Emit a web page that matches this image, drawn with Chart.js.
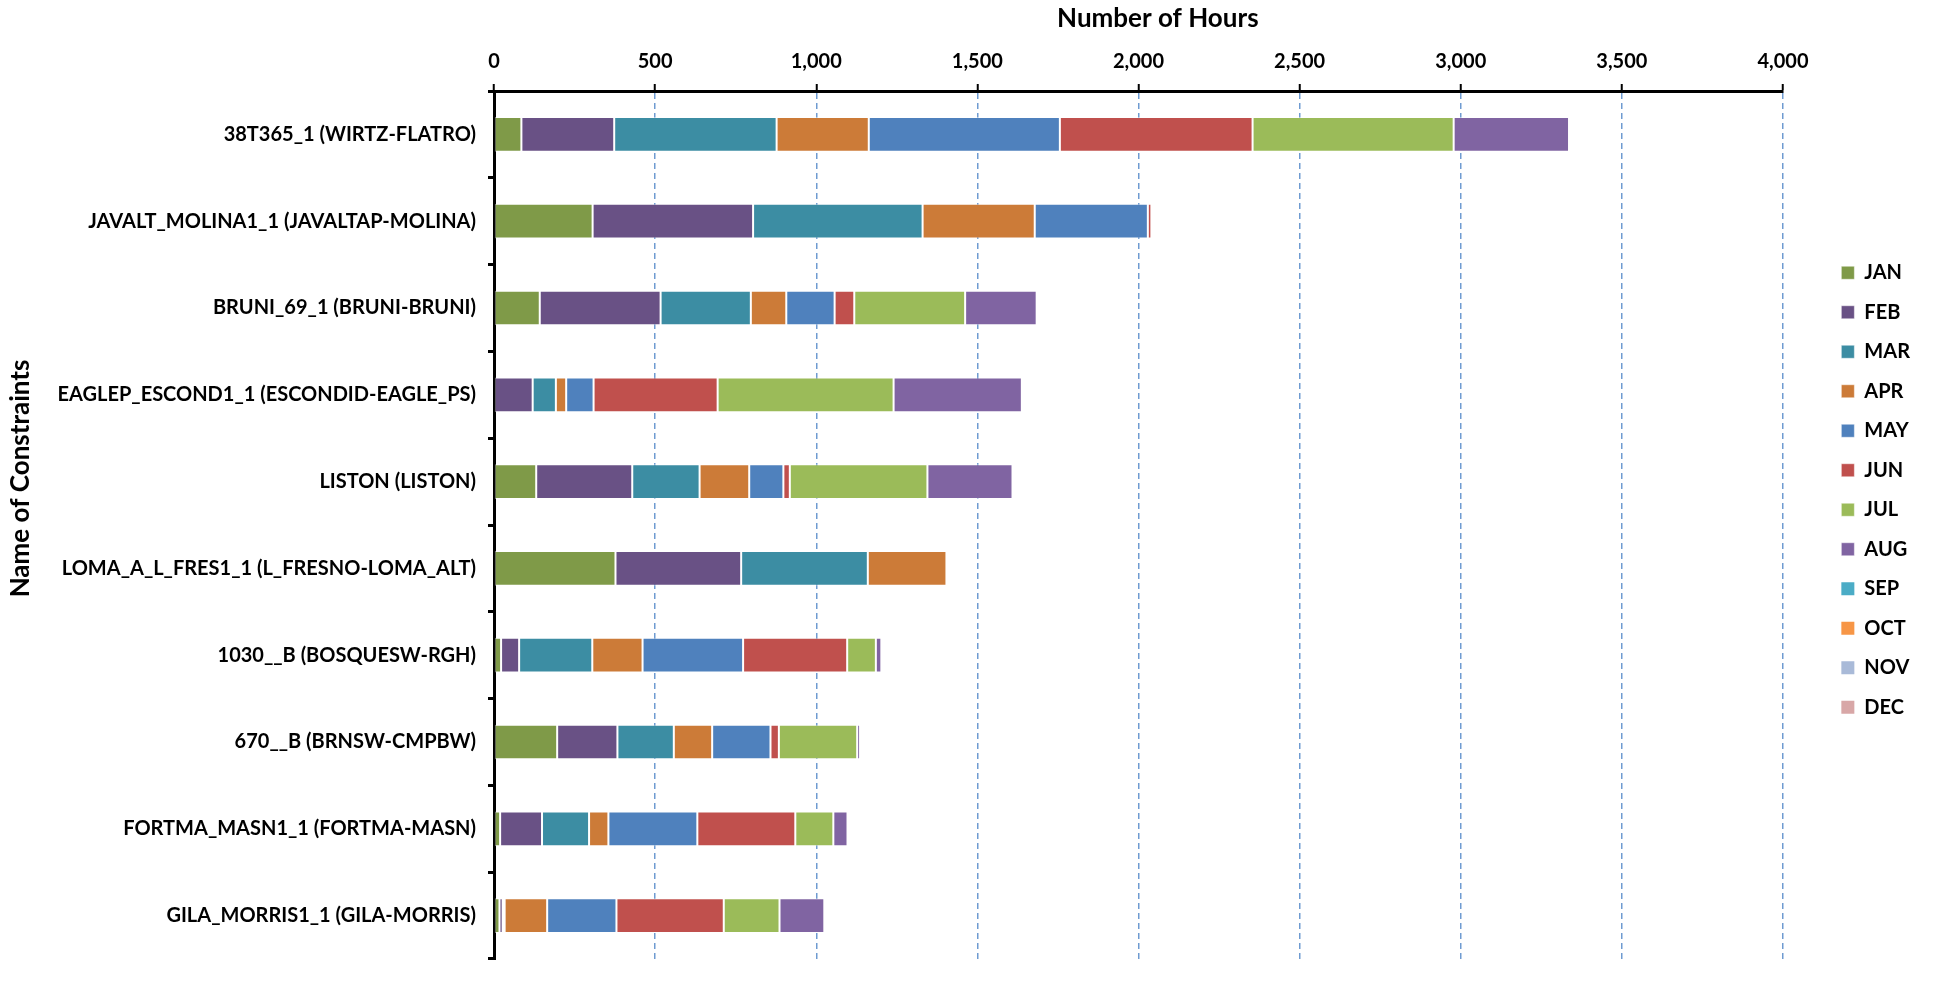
<!DOCTYPE html>
<html>
<head>
<meta charset="utf-8">
<script src="https://cdn.jsdelivr.net/npm/chart.js@4.4.1/dist/chart.umd.min.js"></script>
<style>
  html, body { margin: 0; padding: 0; background: #fff; }
  #wrap { width: 1936px; height: 983px; position: relative; }
</style>
</head>
<body>
<div id="wrap"><canvas id="chart"></canvas></div>
<script>
// constraint names, top to bottom
const constraints = [
  '38T365_1 (WIRTZ-FLATRO)',
  'JAVALT_MOLINA1_1 (JAVALTAP-MOLINA)',
  'BRUNI_69_1 (BRUNI-BRUNI)',
  'EAGLEP_ESCOND1_1 (ESCONDID-EAGLE_PS)',
  'LISTON (LISTON)',
  'LOMA_A_L_FRES1_1 (L_FRESNO-LOMA_ALT)',
  '1030__B (BOSQUESW-RGH)',
  '670__B (BRNSW-CMPBW)',
  'FORTMA_MASN1_1 (FORTMA-MASN)',
  'GILA_MORRIS1_1 (GILA-MORRIS)',
];

// hours binding per month
const jan = [85, 306, 142, 0, 131, 377, 22, 196, 19, 17];
const feb = [288, 498, 375, 120, 298, 390, 56, 187, 130, 10];
const mar = [504, 526, 280, 72, 209, 393, 227, 175, 146, 6];
const apr = [286, 348, 110, 32, 154, 244, 156, 119, 60, 132];
const may = [593, 351, 150, 85, 106, 0, 312, 181, 276, 215];
const jun = [598, 11, 61, 385, 20, 0, 323, 26, 304, 333];
const jul = [624, 0, 344, 546, 427, 4, 89, 243, 118, 173];
const aug = [358, 0, 222, 398, 264, 0, 17, 9, 44, 139];
const sep = [0, 0, 0, 0, 0, 0, 0, 0, 0, 0];
const oct = [0, 0, 0, 0, 0, 0, 0, 0, 0, 0];
const nov = [0, 0, 0, 0, 0, 0, 0, 0, 0, 0];
const dec = [0, 0, 0, 0, 0, 0, 0, 0, 0, 0];

const months = ['JAN', 'FEB', 'MAR', 'APR', 'MAY', 'JUN', 'JUL', 'AUG', 'SEP', 'OCT', 'NOV', 'DEC'];
const monthValues = [jan, feb, mar, apr, may, jun, jul, aug, sep, oct, nov, dec];
const monthColors = [
  '#7f9a48', '#695185', '#3c8da3', '#cc7b38', '#4f81bd', '#c0504d',
  '#9bbb59', '#8064a2', '#4bacc6', '#f79646', '#a9bad8', '#d8a7a7',
];

const X_TITLE = 'Number of Hours';
const Y_TITLE = 'Name of Constraints';
const FONT = 'Lato';

Chart.defaults.color = '#000';
Chart.defaults.font.family = FONT;
Chart.defaults.font.weight = 'bold';

// axis titles drawn by hand so they sit where the original has them
const axisTitles = {
  id: 'axisTitles',
  afterDraw(chart) {
    const {ctx, chartArea} = chart;
    ctx.save();
    ctx.font = 'bold 26px ' + FONT;
    ctx.fillStyle = '#000';
    ctx.textAlign = 'center';
    ctx.textBaseline = 'middle';
    ctx.fillText(X_TITLE, chartArea.left + chartArea.width * 0.515, 19);
    ctx.translate(21, chart.height / 2 - 13);
    ctx.rotate(-Math.PI / 2);
    ctx.fillText(Y_TITLE, 0, 0);
    ctx.restore();
  },
};

const datasets = months.map((m, i) => ({
  label: m,
  data: monthValues[i],
  backgroundColor: monthColors[i],
  borderColor: 'rgba(255,255,255,0.45)',
  borderWidth: (c) => (c.raw ? 1 : 0),
  borderSkipped: false,
  categoryPercentage: 0.4,
  barPercentage: 1,
}));

new Chart(document.getElementById('chart'), {
  type: 'bar',
  data: {labels: constraints, datasets},
  plugins: [axisTitles],
  options: {
    indexAxis: 'y',
    responsive: true,
    maintainAspectRatio: false,
    animation: false,
    layout: {padding: {top: 0, left: 0, right: 16, bottom: 3}},
    plugins: {
      tooltip: {enabled: false},
      legend: {
        position: 'right',
        align: 'center',
        labels: {
          boxWidth: 13,
          boxHeight: 13,
          padding: 19.5,
          font: {size: 20, weight: 'bold'},
          color: '#000',
        },
      },
    },
    scales: {
      x: {
        position: 'top',
        stacked: true,
        min: 0,
        max: 4000,
        afterFit: (s) => { s.height = 91; },
        ticks: {stepSize: 500, padding: 10, font: {size: 20, weight: 'bold'}},
        grid: {
          color: '#6f9bd1',
          lineWidth: 1.5,
          tickColor: '#000',
          tickWidth: 2,
          tickLength: 7,
        },
        border: {display: true, color: '#000', width: 3, dash: [6, 4]},
      },
      y: {
        stacked: true,
        afterFit: (s) => { s.width = 494; },
        ticks: {padding: 12, font: {size: 20, weight: 'bold'}},
        grid: {
          offset: true,
          drawOnChartArea: false,
          tickColor: '#000',
          tickWidth: 3,
          tickLength: 6,
        },
        border: {display: true, color: '#000', width: 3},
      },
      // empty spacer between the plot and the legend
      pad: {
        type: 'linear',
        axis: 'y',
        position: 'right',
        grid: {display: false},
        border: {display: false},
        ticks: {display: false},
        afterFit: (s) => { s.width = s.chart.width - 16 - 1783 - s.chart.legend.width; },
      },
    },
  },
});
</script>
</body>
</html>
